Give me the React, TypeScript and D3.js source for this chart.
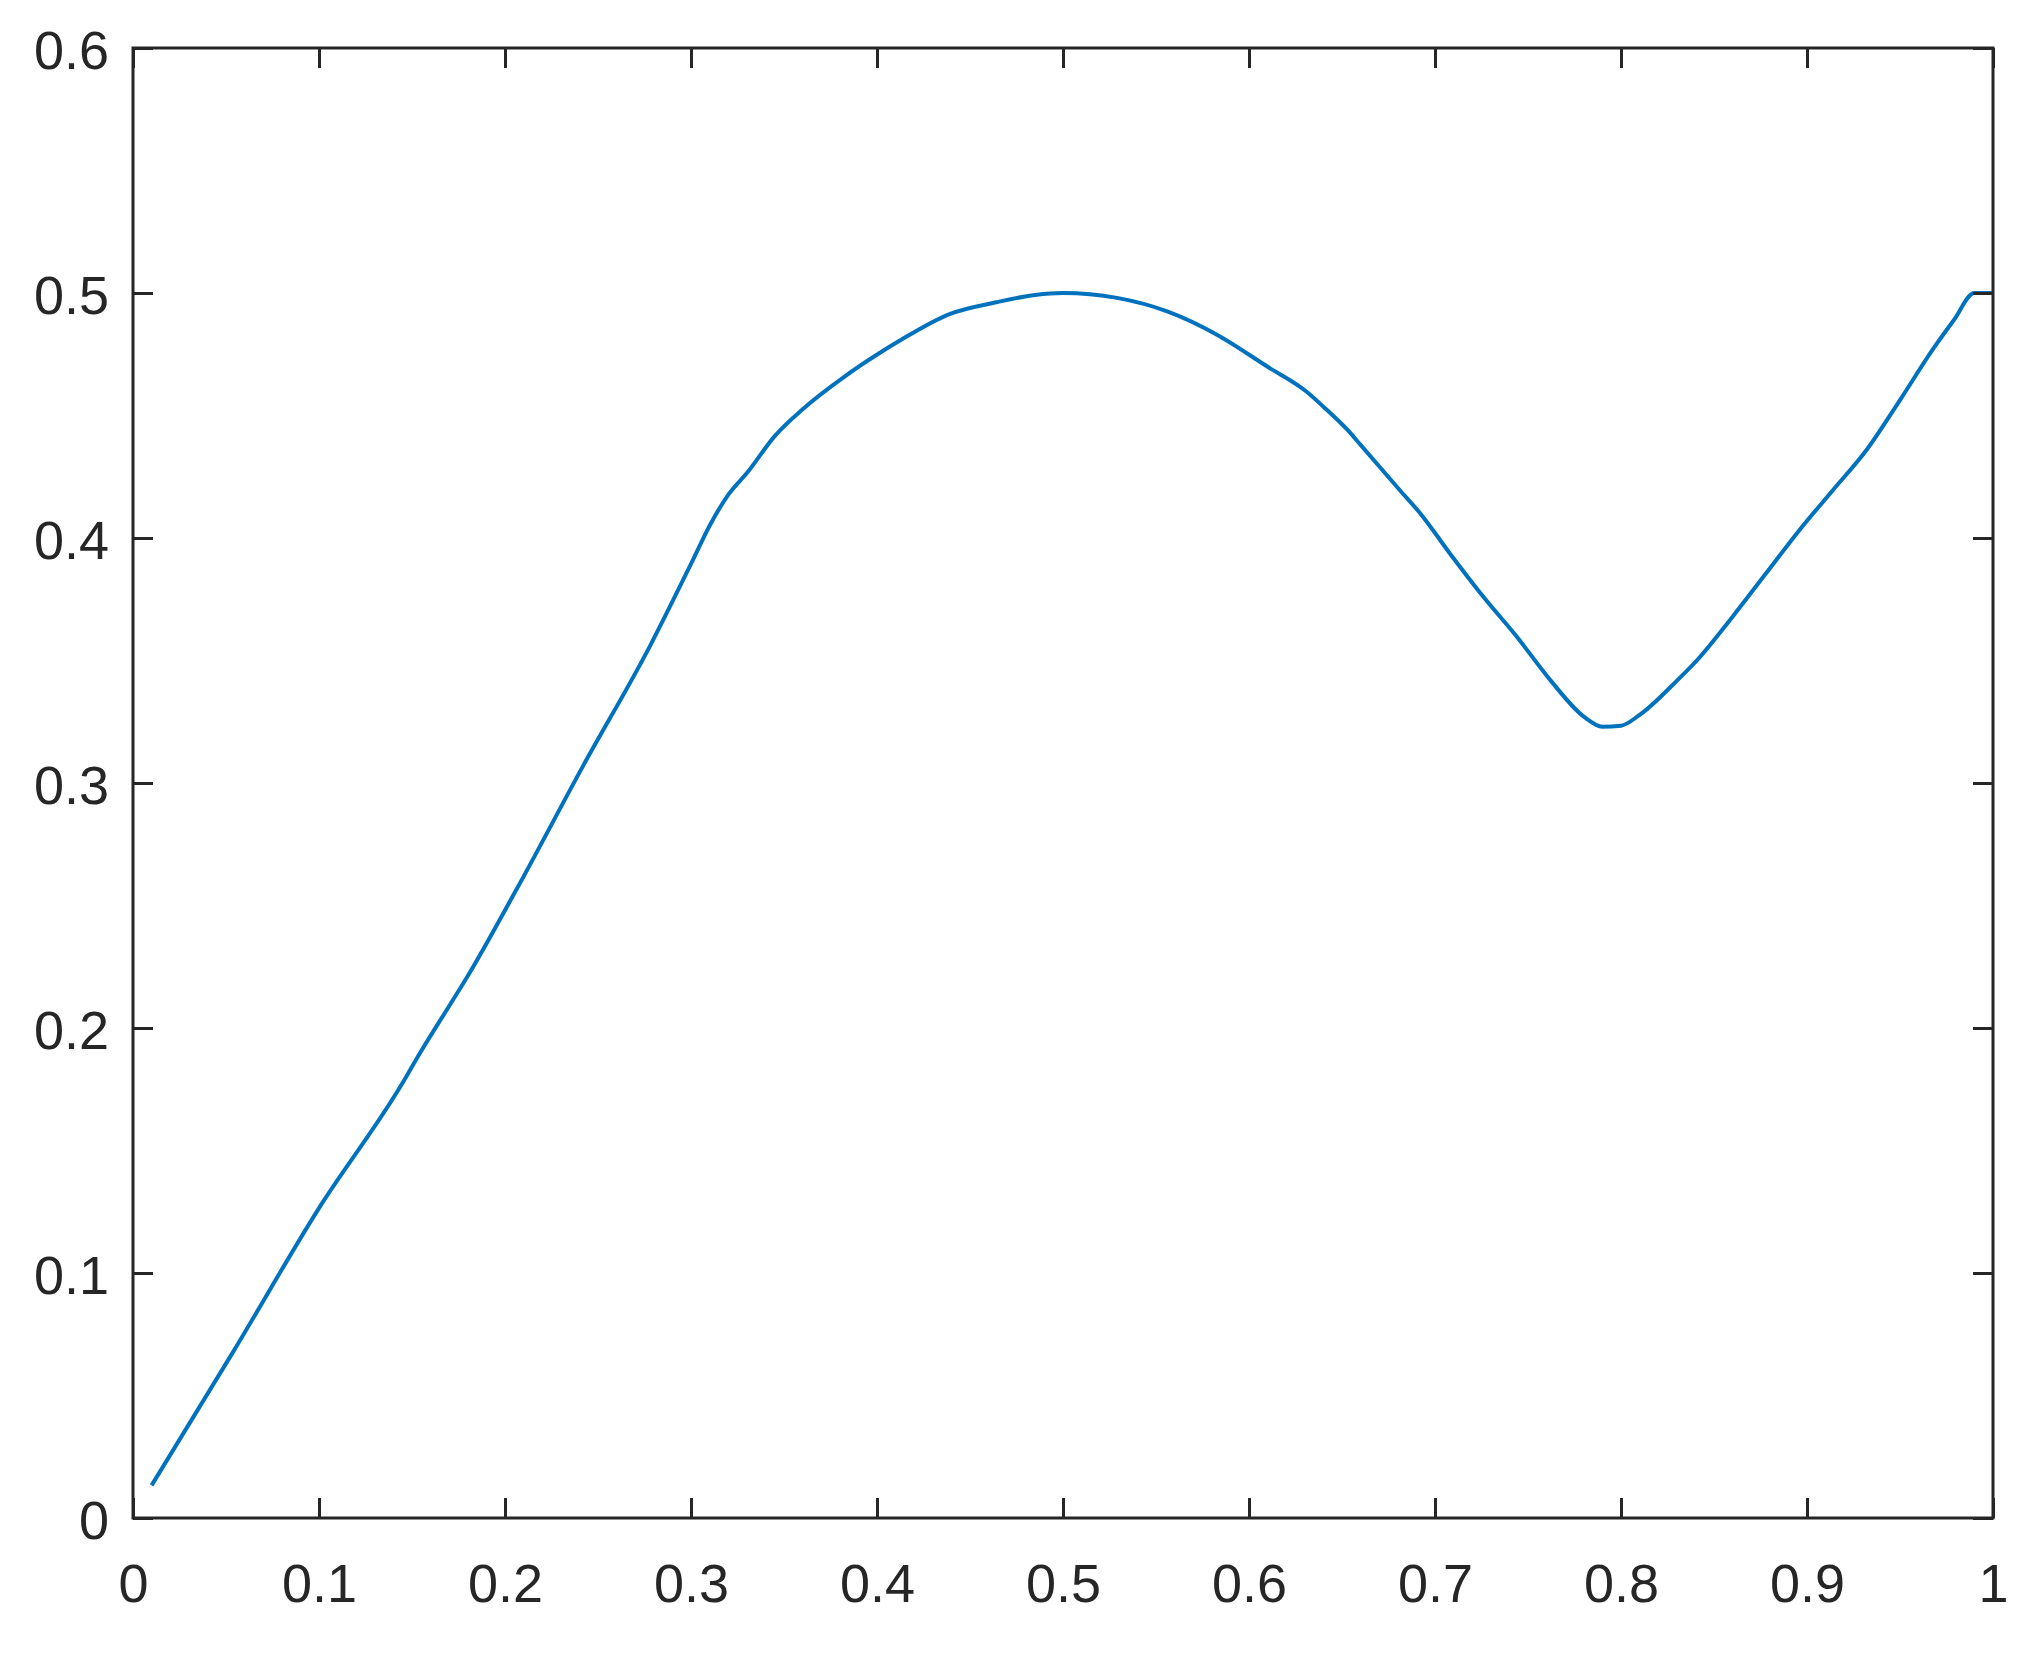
import React, { useEffect, useRef } from "react";
import * as d3 from "d3";

const W = 2044;
const H = 1659;
const margin = { top: 48, right: 51, bottom: 141, left: 133 };
const width = W - margin.left - margin.right;
const height = H - margin.top - margin.bottom;

// values
const xValues = [
  0.01, 0.054, 0.1, 0.144, 0.154, 0.17, 0.179, 0.206, 0.242, 0.278, 0.301,
  0.31, 0.32, 0.3305, 0.345, 0.361, 0.382, 0.402, 0.413, 0.439, 0.464, 0.485,
  0.5, 0.529, 0.556, 0.583, 0.61, 0.631, 0.64, 0.653, 0.66, 0.681, 0.692,
  0.708, 0.726, 0.744, 0.762, 0.78, 0.79, 0.8, 0.81, 0.83, 0.841, 0.86, 0.878,
  0.896, 0.914, 0.932, 0.95, 0.968, 0.979, 0.99, 1.0,
];
const yValues = [
  0.0133, 0.068, 0.1265, 0.1764, 0.1894, 0.209, 0.22, 0.2563, 0.307, 0.356,
  0.391, 0.405, 0.4176, 0.4269, 0.4416, 0.4532, 0.4656, 0.4758, 0.4809,
  0.4914, 0.4962, 0.4992, 0.5, 0.498, 0.4925, 0.4829, 0.4699, 0.4597, 0.4536,
  0.4441, 0.438, 0.4196, 0.4101, 0.3937, 0.376, 0.3597, 0.342, 0.3271, 0.323,
  0.3234, 0.3278, 0.3417, 0.3502, 0.3679, 0.3856, 0.4033, 0.4196, 0.4359,
  0.4563, 0.4774, 0.489, 0.5, 0.5,
];

const xTicks = [0, 0.1, 0.2, 0.3, 0.4, 0.5, 0.6, 0.7, 0.8, 0.9, 1];
const xTickLabels = ["0", "0.1", "0.2", "0.3", "0.4", "0.5", "0.6", "0.7", "0.8", "0.9", "1"];
const yTicks = [0, 0.1, 0.2, 0.3, 0.4, 0.5, 0.6];
const yTickLabels = ["0", "0.1", "0.2", "0.3", "0.4", "0.5", "0.6"];

const axisColor = "#262626";
const lineColor = "#0072BD";
const font = "'Liberation Sans', Arial, Helvetica, sans-serif";

function renderChart(svgRef) {
  const svg = d3.select(svgRef.current);
  svg.selectAll("*").remove();

  const g = svg.append("g").attr("transform", `translate(${margin.left},${margin.top})`);

  const x = d3.scaleLinear().domain([0, 1]).range([0, width]);
  const y = d3.scaleLinear().domain([0, 0.6]).range([height, 0]);

  // curve
  const points = xValues.map((v, i) => [v, yValues[i]]);
  const line = d3
    .line()
    .x(d => x(d[0]))
    .y(d => y(d[1]))
    .curve(d3.curveMonotoneX);

  g.append("path")
    .datum(points)
    .attr("d", line)
    .attr("fill", "none")
    .attr("stroke", lineColor)
    .attr("stroke-width", 4)
    .attr("stroke-linejoin", "round");

  const style = sel => {
    sel.select(".domain").remove();
    sel.selectAll(".tick line").attr("stroke", axisColor).attr("stroke-width", 3);
    sel.selectAll(".tick text")
      .attr("fill", axisColor)
      .style("font-family", font)
      .style("font-size", "54px");
  };

  // bottom
  g.append("g")
    .attr("transform", `translate(0,${height})`)
    .call(d3.axisBottom(x).tickValues(xTicks).tickFormat((d, i) => xTickLabels[i]).tickSizeInner(-20).tickSizeOuter(0))
    .call(style)
    .call(s => s.selectAll(".tick text").attr("y", 84).attr("dy", null));

  // top
  g.append("g")
    .call(d3.axisTop(x).tickValues(xTicks).tickFormat(() => "").tickSizeInner(-20).tickSizeOuter(0))
    .call(style);

  // left
  g.append("g")
    .call(d3.axisLeft(y).tickValues(yTicks).tickFormat((d, i) => yTickLabels[i]).tickSizeInner(-20).tickSizeOuter(0))
    .call(style)
    .call(s => s.selectAll(".tick text").attr("x", -24).attr("y", 20).attr("dy", null));

  // right
  g.append("g")
    .attr("transform", `translate(${width},0)`)
    .call(d3.axisRight(y).tickValues(yTicks).tickFormat(() => "").tickSizeInner(-20).tickSizeOuter(0))
    .call(style);

  // box
  g.append("rect")
    .attr("x", 0)
    .attr("y", 0)
    .attr("width", width)
    .attr("height", height)
    .attr("fill", "none")
    .attr("stroke", axisColor)
    .attr("stroke-width", 3);
}

export default function App() {
  const svgRef = useRef(null);

  useEffect(() => {
    renderChart(svgRef);
  }, []);

  return (
    <svg
      ref={svgRef}
      width={W}
      height={H}
      style={{ position: "absolute", left: 0, top: 0, background: "#fff" }}
    />
  );
}
